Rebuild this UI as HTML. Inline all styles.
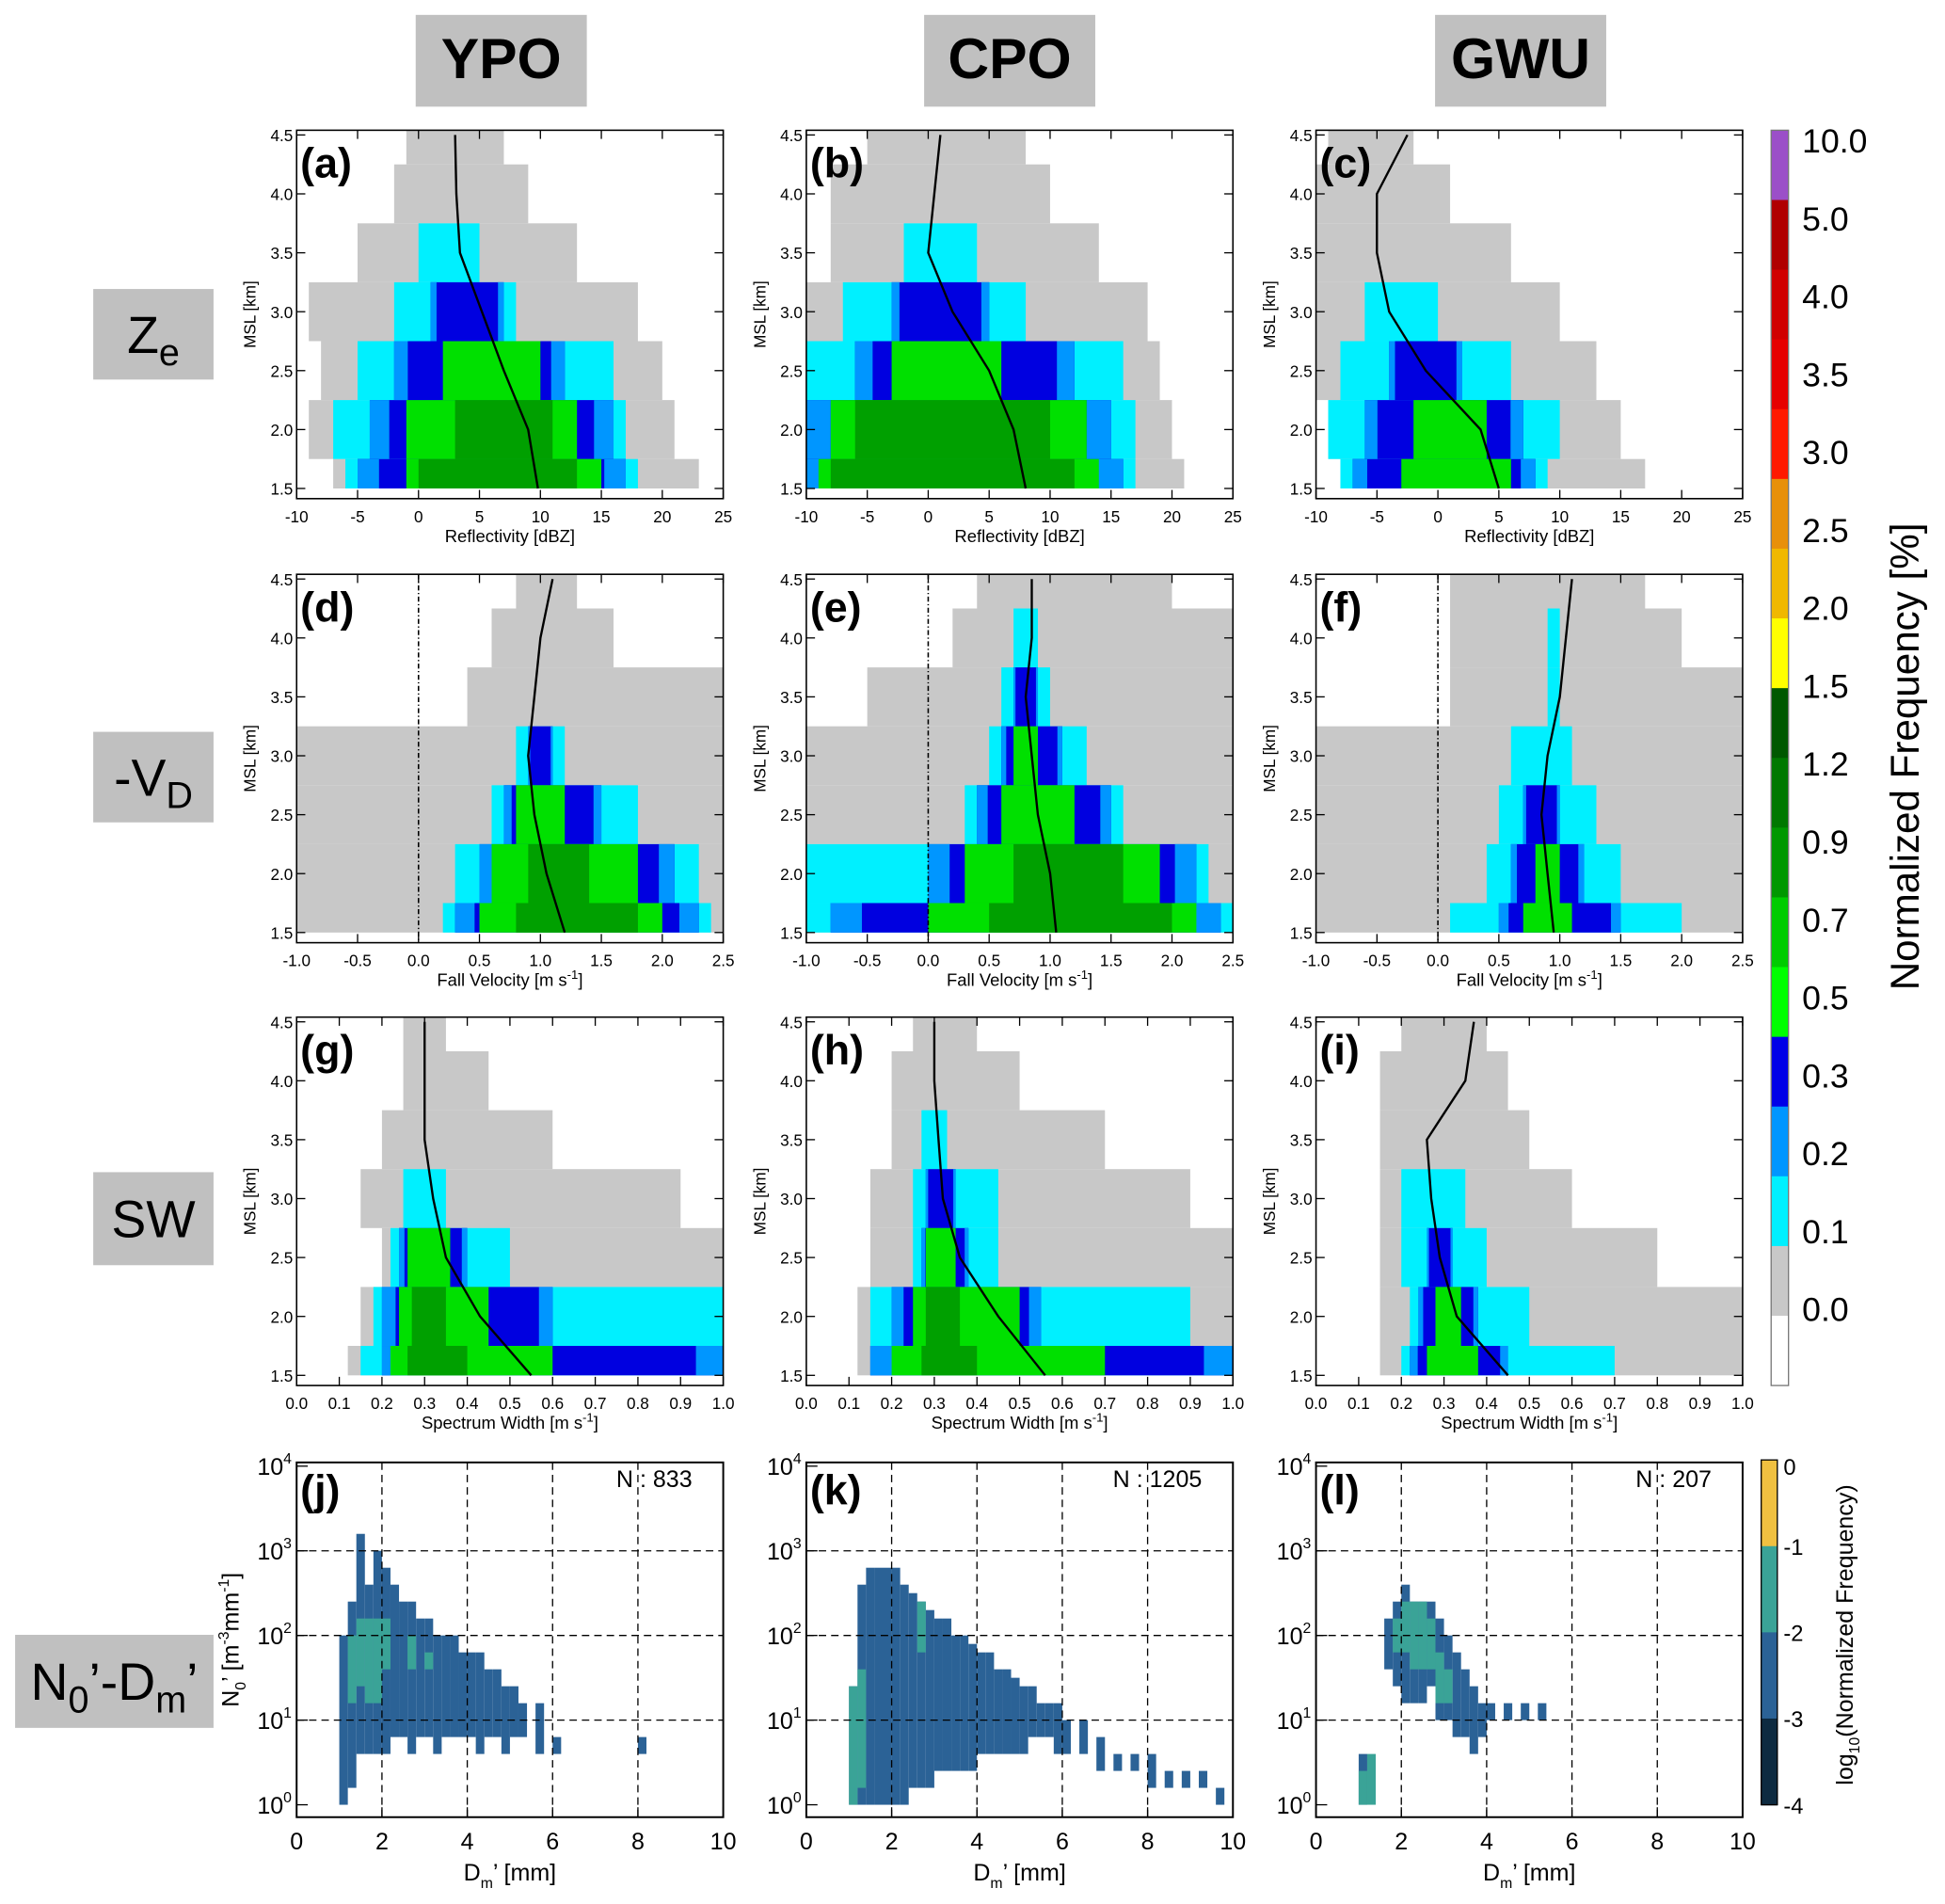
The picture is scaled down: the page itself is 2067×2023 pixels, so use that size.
<!DOCTYPE html>
<html><head><meta charset="utf-8">
<style>
html,body{margin:0;padding:0;background:#fff;}
svg{display:block;font-family:"Liberation Sans",Arial,sans-serif;}
</style></head>
<body>
<svg id="fig" width="2067" height="2023" viewBox="0 0 1568 1535" xmlns="http://www.w3.org/2000/svg"></svg>
<script>
// ---------- data (estimated) ----------
const hts=[1.5,2.0,2.5,3.0,3.5,4.0,4.5];
// panel a (YPO Ze)
const aGray=[[-7,23],[-9,21],[-8,20],[-9,18],[-5,13],[-2,9],[-1,7]];
const aCyan=[[-6,18],[-7,17],[-5,16],[-2,8],[0,5],null,null];
const aBlue=[[-5,17],[-4,16],[-2,12],[1,7],null,null,null];
const aGreen=[[-1,15],[-1,13],[2,10],null,null,null,null];
const aDark=[[0,13],[3,11],null,null,null,null,null];
const aMean=[9.8,9,7,5.2,3.4,3.1,3.0];
// panel b (CPO Ze)
const bGray=[[-10,21],[-10,20],[-10,19],[-10,18],[-8,14],[-8,10],[-5,8]];
const bCyan=[[-10,17],[-10,17],[-10,16],[-7,8],[-2,4],null,null];
const bBlue=[[-10,16],[-10,15],[-6,12],[-3,5],null,null,null];
const bGreen=[[-9,14],[-8,13],[-3,6],null,null,null,null];
const bDark=[[-8,12],[-6,10],null,null,null,null,null];
const bMean=[8,7,5,2,0,0.5,1];
// panel c (GWU Ze)
const cGray=[[-8,17],[-9,15],[-10,13],[-10,10],[-10,6],[-10,1],[-9,-2]];
const cCyan=[[-8,9],[-9,10],[-8,6],[-6,0],null,null,null];
const cBlue=[[-7,8],[-6,7],[-4,2],null,null,null,null];
const cGreen=[[-3,6],[-2,4],null,null,null,null,null];
const cDark=[null,null,null,null,null,null,null];
const cMean=[5,3.5,-1,-4,-5,-5,-2.5];
// panel d (YPO -VD)
const dGray=[[-1,2.5],[-1,2.5],[-1,2.5],[-1,2.5],[0.4,2.5],[0.6,1.6],[0.8,1.3]];
const dCyan=[[0.2,2.4],[0.3,2.3],[0.6,1.8],[0.8,1.2],null,null,null];
const dBlue=[[0.3,2.3],[0.5,2.1],[0.7,1.5],[0.9,1.1],null,null,null];
const dGreen=[[0.5,2.0],[0.6,1.8],[0.8,1.2],null,null,null,null];
const dDark=[[0.8,1.8],[0.9,1.4],null,null,null,null,null];
const dMean=[1.2,1.05,0.95,0.9,0.95,1.0,1.1];
// panel e (CPO -VD)
const eGray=[[-1,2.5],[-1,2.5],[-1,2.5],[-1,2.5],[-0.5,2.5],[0.2,2.5],[0.4,2.0]];
const eCyan=[[-1,2.5],[-1,2.3],[0.3,1.6],[0.5,1.3],[0.6,1.0],[0.7,0.9],null];
const eBlue=[[-0.8,2.4],[0,2.2],[0.4,1.5],[0.6,1.1],[0.7,0.9],null,null];
const eGreen=[[0,2.2],[0.3,1.9],[0.6,1.2],[0.7,0.9],null,null,null];
const eDark=[[0.5,2.0],[0.7,1.6],null,null,null,null,null];
const eMean=[1.05,1.0,0.9,0.85,0.8,0.85,0.85];
// panel f (GWU -VD)
const fGray=[[-1,2.5],[-1,2.5],[-1,2.5],[-1,2.5],[0.1,2.5],[0.1,2.0],[0.1,1.7]];
const fCyan=[[0.1,2.0],[0.4,1.5],[0.5,1.3],[0.6,1.1],[0.9,1.0],[0.9,1.0],null];
const fBlue=[[0.5,1.5],[0.6,1.2],[0.7,1.0],null,null,null,null];
const fGreen=[[0.7,1.1],[0.8,1.0],null,null,null,null,null];
const fDark=[null,null,null,null,null,null,null];
const fMean=[0.95,0.9,0.85,0.9,1.0,1.05,1.1];
// panel g (YPO SW)
const gGray=[[0.12,1],[0.15,1],[0.2,1],[0.15,0.9],[0.2,0.6],[0.25,0.45],[0.25,0.35]];
const gCyan=[[0.15,1],[0.18,1],[0.22,0.5],[0.25,0.35],null,null,null];
const gBlue=[[0.2,1],[0.2,0.6],[0.24,0.4],null,null,null,null];
const gGreen=[[0.22,0.6],[0.24,0.45],[0.26,0.36],null,null,null,null];
const gDark=[[0.26,0.4],[0.27,0.35],null,null,null,null,null];
const gMean=[0.55,0.43,0.35,0.32,0.3,0.3,0.3];
// panel h (CPO SW)
const hGray=[[0.12,1],[0.12,1],[0.15,1],[0.15,0.9],[0.2,0.7],[0.2,0.5],[0.25,0.4]];
const hCyan=[[0.15,1],[0.15,0.9],[0.25,0.45],[0.25,0.45],[0.27,0.33],null,null];
const hBlue=[[0.15,1],[0.2,0.55],[0.27,0.38],[0.28,0.35],null,null,null];
const hGreen=[[0.2,0.7],[0.25,0.5],[0.28,0.35],null,null,null,null];
const hDark=[[0.27,0.4],[0.28,0.36],null,null,null,null,null];
const hMean=[0.56,0.45,0.36,0.32,0.31,0.3,0.3];
// panel i (GWU SW)
const iGray=[[0.15,1],[0.15,1],[0.15,0.8],[0.15,0.6],[0.15,0.5],[0.15,0.45],[0.2,0.4]];
const iCyan=[[0.2,0.7],[0.22,0.5],[0.2,0.4],[0.2,0.35],null,null,null];
const iBlue=[[0.22,0.45],[0.24,0.38],[0.26,0.32],null,null,null,null];
const iGreen=[[0.26,0.38],[0.28,0.34],null,null,null,null,null];
const iDark=[null,null,null,null,null,null,null];
const iMean=[0.45,0.33,0.29,0.27,0.26,0.35,0.37];
// N0'-Dm' panels: column Dm, log10 N bottom/top
const jDm=[1.0,1.2,1.4,1.6,1.8,2.0,2.2,2.4,2.6,2.8,3.0,3.2,3.4,3.6,3.8,4.0,4.2,4.4,4.6,4.8,5.0,5.2,5.6,6.0,6.8,8.0];
const jLo=[0.0,0.2,0.6,0.6,0.6,0.6,0.8,0.8,0.6,0.8,0.8,0.6,0.8,0.8,0.8,0.8,0.6,0.8,0.8,0.6,0.8,0.8,0.6,0.6,0.6,0.6];
const jHi=[2.0,2.4,3.2,2.6,3.0,2.8,2.6,2.4,2.4,2.2,2.2,2.0,2.0,2.0,1.8,1.8,1.8,1.6,1.6,1.4,1.4,1.2,1.2,0.8,0.6,0.8];
const jTealDm=[1.2,1.4,1.6,1.8,2.0,2.6,3.0];
const jTealLo=[1.2,1.4,1.2,1.2,1.6,1.6,1.6];
const jTealHi=[2.0,2.2,2.2,2.2,2.2,2.0,1.8];
const kDm=[1.0,1.2,1.4,1.6,1.8,2.0,2.2,2.4,2.6,2.8,3.0,3.2,3.4,3.6,3.8,4.0,4.2,4.4,4.6,4.8,5.0,5.2,5.4,5.6,5.8,6.0,6.4,6.8,7.2,7.6,8.0,8.4,8.8,9.2,9.6];
const kLo=[0,0,0,0,0,0,0,0.2,0.2,0.2,0.4,0.4,0.4,0.4,0.4,0.6,0.6,0.6,0.6,0.6,0.6,0.8,0.8,0.8,0.6,0.6,0.6,0.4,0.4,0.4,0.2,0.2,0.2,0.2,0];
const kHi=[1.4,2.6,2.8,2.8,2.8,2.8,2.6,2.5,2.4,2.3,2.2,2.2,2.0,2.0,1.9,1.8,1.8,1.6,1.6,1.5,1.4,1.4,1.2,1.2,1.2,1.0,1.0,0.8,0.6,0.6,0.6,0.4,0.4,0.4,0.2];
const kTealDm=[1.0,1.2,2.6];
const kTealLo=[0,0.2,1.8];
const kTealHi=[1.4,1.6,2.4];
const lDm=[1.0,1.6,1.8,2.0,2.2,2.4,2.6,2.8,3.0,3.2,3.4,3.6,3.8,4.0,4.4,4.8,5.2];
const lLo=[0,1.6,1.4,1.2,1.2,1.2,1.4,1.0,1.0,0.8,0.8,0.6,0.8,1.0,1.0,1.0,1.0];
const lHi=[0.6,2.2,2.4,2.6,2.4,2.4,2.4,2.2,2.0,1.8,1.6,1.4,1.2,1.2,1.2,1.2,1.2];
const lTealDm=[1.0,1.2,1.8,2.0,2.2,2.4,2.6,2.8,3.0];
const lTealLo=[0,0,1.8,1.8,1.6,1.6,1.6,1.2,1.2];
const lTealHi=[0.4,0.6,2.2,2.4,2.4,2.4,2.2,1.8,1.6];
const nLabels=["N : 833","N : 1205","N : 207"];
const zTicks=[-10,-5,0,5,10,15,20,25];
const vTicks=[-1.0,-0.5,0.0,0.5,1.0,1.5,2.0,2.5];
const wTicks=[0.0,0.1,0.2,0.3,0.4,0.5,0.6,0.7,0.8,0.9,1.0];
const hTicks=[1.5,2.0,2.5,3.0,3.5,4.0,4.5];
const dmTicks=[0,2,4,6,8,10];
const cbLabels=["10.0","5.0","4.0","3.5","3.0","2.5","2.0","1.5","1.2","0.9","0.7","0.5","0.3","0.2","0.1","0.0"];
const cbColors=["#9b4fc8","#b00000","#d00000","#e60000","#ff1a00","#e8900a","#f0b800","#ffff00","#005800","#007800","#009800","#00cc00","#00ff00","#0000e8","#0096ff","#00f0ff","#c8c8c8","#ffffff"];
const cb2Labels=["0","-1","-2","-3","-4"];
const cb2Colors=["#f0c040","#3aa397","#2b6296","#0d2a40"];

// ---------- drawing ----------
const NS="http://www.w3.org/2000/svg";
const svg=document.getElementById('fig');
function mk(tag,attrs,parent){const e=document.createElementNS(NS,tag);for(const k in attrs)e.setAttribute(k,attrs[k]);(parent||svg).appendChild(e);return e;}
function txt(s,x,y,size,anchor,weight,parent){const t=mk('text',{x:x,y:y,'font-size':size,'text-anchor':anchor||'start','font-weight':weight||'normal',fill:'#000'},parent);t.textContent=s;return t;}

const colX=[239,650,1061], PW=344, rowY=[105,463,820], PH=297;
const C={gray:"#c8c8c8",cyan:"#00f0ff",lblue:"#0096ff",blue:"#0000e0",green:"#00e000",dark:"#00a000"};

["YPO","CPO","GWU"].forEach((s,i)=>{
 const g=mk('g',{});
 
 
 const bx=[335,745,1157][i];
 mk('rect',{x:bx,y:12,width:138,height:74,fill:'#c0c0c0'},g);
 txt(s,bx+69,63,46,'middle','bold',g);
});
function rowLabel(name,x,y,w,h,html){
 const g=mk('g',{});
 
 
 mk('rect',{x:x,y:y,width:w,height:h,fill:'#c0c0c0'},g);
 const t=mk('text',{x:x+w/2,y:y+h/2+15,'font-size':42,'text-anchor':'middle',fill:'#000'},g);
 t.innerHTML=html;
}
rowLabel('row-label-ze',75,233,97,73,'Z<tspan font-size="30" dy="10">e</tspan>');
rowLabel('row-label-vd',75,590,97,73,'-V<tspan font-size="30" dy="10">D</tspan>');
rowLabel('row-label-sw',75,945,97,75,'SW');
rowLabel('row-label-n0dm',12,1318,160,75,'N<tspan font-size="30" dy="10">0</tspan><tspan dy="-10">’-D</tspan><tspan font-size="30" dy="10">m</tspan><tspan dy="-10">’</tspan>');

const rows=[
 {ticks:zTicks,min:-10,max:25,title:'Reflectivity [dBZ]',panels:[
  ['a',aGray,aCyan,aBlue,aGreen,aDark,aMean],['b',bGray,bCyan,bBlue,bGreen,bDark,bMean],['c',cGray,cCyan,cBlue,cGreen,cDark,cMean]],fmt:v=>String(v)},
 {ticks:vTicks,min:-1,max:2.5,title:'Fall Velocity [m s',sup:true,panels:[
  ['d',dGray,dCyan,dBlue,dGreen,dDark,dMean],['e',eGray,eCyan,eBlue,eGreen,eDark,eMean],['f',fGray,fCyan,fBlue,fGreen,fDark,fMean]],fmt:v=>v.toFixed(1),zero:true},
 {ticks:wTicks,min:0,max:1,title:'Spectrum Width [m s',sup:true,panels:[
  ['g',gGray,gCyan,gBlue,gGreen,gDark,gMean],['h',hGray,hCyan,hBlue,hGreen,hDark,hMean],['i',iGray,iCyan,iBlue,iGreen,iDark,iMean]],fmt:v=>v.toFixed(1)}
];

rows.forEach((row,ri)=>{
 row.panels.forEach((p,ci)=>{
  const x0=colX[ci], y0=rowY[ri];
  const xs=v=>x0+(v-row.min)/(row.max-row.min)*PW;
  const ys=h=>y0+(4.54-h)*95;
  const g=mk('g',{});
  
  
  mk('clipPath',{id:'cp'+p[0]},g);
  mk('rect',{x:x0,y:y0,width:PW,height:PH},g.lastChild);
  const hm=mk('g',{'clip-path':'url(#cp'+p[0]+')'},g);
  
  
  const layers=[[p[1],C.gray],[p[2],C.cyan],[p[3],C.blue],[p[4],C.green],[p[5],C.dark]];
  layers.forEach(([arr,col],li)=>{
   arr.forEach((r,k)=>{
    if(!r)return;
    const hb=Math.max(1.5,hts[k]-0.25), ht=Math.min(4.54,hts[k]+0.25);
    const rc=mk('rect',{x:xs(r[0]),y:ys(ht),width:Math.max(1,xs(r[1])-xs(r[0])),height:ys(hb)-ys(ht),fill:col},hm);
    
    
    if(li===2){
     const w=(xs(r[1])-xs(r[0]))*0.08;
     mk('rect',{x:xs(r[0]),y:ys(ht),width:w,height:ys(hb)-ys(ht),fill:C.lblue},hm);
     mk('rect',{x:xs(r[1])-w,y:ys(ht),width:w,height:ys(hb)-ys(ht),fill:C.lblue},hm);
    }
   });
  });
  if(row.zero){
   const zl=mk('line',{x1:xs(0),x2:xs(0),y1:y0,y2:y0+PH,stroke:'#000','stroke-width':1.2,'stroke-dasharray':'4,2,1,2'},g);
   
   
  }
  const pts=p[6].map((v,k)=>xs(v).toFixed(1)+','+ys(hts[k]).toFixed(1)).join(' ');
  const ml=mk('polyline',{points:pts,fill:'none',stroke:'#000','stroke-width':1.8},g);
  
  
  mk('rect',{x:x0,y:y0,width:PW,height:PH,fill:'none',stroke:'#000','stroke-width':1.2},g);
  row.ticks.forEach(v=>{
   const x=xs(v);
   mk('line',{x1:x,x2:x,y1:y0+PH,y2:y0+PH-7,stroke:'#000'},g);
   mk('line',{x1:x,x2:x,y1:y0,y2:y0+7,stroke:'#000'},g);
   txt(row.fmt(v),x,y0+PH+19,13,'middle','normal',g);
  });
  hTicks.forEach(h=>{
   const y=ys(h);
   mk('line',{x1:x0,x2:x0+7,y1:y,y2:y,stroke:'#000'},g);
   mk('line',{x1:x0+PW,x2:x0+PW-7,y1:y,y2:y,stroke:'#000'},g);
   txt(h.toFixed(1),x0-3,y+5,13,'end','normal',g);
  });
  const xt=txt(row.title,x0+PW/2,y0+PH+35,14,'middle','normal',g);
  
  
  if(row.sup){xt.innerHTML=row.title+'<tspan font-size="10" dy="-6">-1</tspan><tspan dy="6">]</tspan>';}
  const yt=mk('text',{x:0,y:0,'font-size':13,'text-anchor':'middle',transform:'translate('+(x0-33)+','+(y0+PH/2)+') rotate(-90)'},g);
  yt.textContent='MSL [km]';
  
  
  const lb=txt('('+p[0]+')',x0+3,y0+38,34,'start','bold',g);
  
  
 });
});

const r4=[['j',jDm,jLo,jHi,jTealDm,jTealLo,jTealHi],['k',kDm,kLo,kHi,kTealDm,kTealLo,kTealHi],['l',lDm,lLo,lHi,lTealDm,lTealLo,lTealHi]];
const y4t=1179, y4b=1465;
r4.forEach((p,ci)=>{
 const x0=colX[ci];
 const xs=v=>x0+v/10*PW;
 const ys=l=>1455-l*68.25;
 const g=mk('g',{});
 
 
 p[1].forEach((dm,k)=>{
  const c=mk('rect',{x:xs(dm),y:ys(p[3][k]),width:xs(0.2)-xs(0),height:ys(p[2][k])-ys(p[3][k]),fill:'#2b6296'},g);
  
  
 });
 p[4].forEach((dm,k)=>{
  const c=mk('rect',{x:xs(dm),y:ys(p[6][k]),width:xs(0.2)-xs(0),height:ys(p[5][k])-ys(p[6][k]),fill:'#3aa397'},g);
  
  
 });
 [2,4,6,8].forEach(v=>mk('line',{x1:xs(v),x2:xs(v),y1:y4t,y2:y4b,stroke:'#000','stroke-dasharray':'6,4','stroke-width':1},g));
 [1,2,3].forEach(l=>mk('line',{x1:x0,x2:x0+PW,y1:ys(l),y2:ys(l),stroke:'#000','stroke-dasharray':'6,4','stroke-width':1},g));
 mk('rect',{x:x0,y:y4t,width:PW,height:y4b-y4t,fill:'none',stroke:'#000','stroke-width':1.5},g);
 dmTicks.forEach(v=>{
  mk('line',{x1:xs(v),x2:xs(v),y1:y4b,y2:y4b-8,stroke:'#000'},g);
  txt(String(v),xs(v),1491,19,'middle','normal',g);
 });
 [0,1,2,3,4].forEach(l=>{
  mk('line',{x1:x0,x2:x0+9,y1:ys(l),y2:ys(l),stroke:'#000'},g);
  const t=mk('text',{x:x0-4,y:ys(l)+7,'font-size':19,'text-anchor':'end'},g);
  t.innerHTML='10<tspan font-size="12" dy="-9">'+l+'</tspan>';
 });
 const xt=mk('text',{x:x0+PW/2,y:1516,'font-size':19,'text-anchor':'middle'},g);
 xt.innerHTML='D<tspan font-size="12" dy="6">m</tspan><tspan dy="-6">’ [mm]</tspan>';
 
 
 if(ci===0){
  const yt=mk('text',{x:0,y:0,'font-size':19,'text-anchor':'middle',transform:'translate(192,1322) rotate(-90)'},g);
  yt.innerHTML='N<tspan font-size="12" dy="6">0</tspan><tspan dy="-6">’ [m</tspan><tspan font-size="12" dy="-8">-3</tspan><tspan dy="8">mm</tspan><tspan font-size="12" dy="-8">-1</tspan><tspan dy="8">]</tspan>';
  
  
 }
 const nl=txt(nLabels[ci],x0+PW-25,1199,19,'end','normal',g);
 
 
 const lb=txt('('+p[0]+')',x0+3,1213,34,'start','bold',g);
 
 
});

const cb=mk('g',{});


const cbTop=105, cbBot=1117, segH=(cbBot-cbTop)/cbColors.length;
cbColors.forEach((c,k)=>mk('rect',{x:1428,y:cbTop+k*segH,width:14,height:segH+0.5,fill:c},cb));
mk('rect',{x:1428,y:cbTop,width:14,height:cbBot-cbTop,fill:'none',stroke:'#777'},cb);
cbLabels.forEach((s,k)=>txt(s,1453,123+k*62.8,27,'start','normal',cb));
const cbt=mk('text',{x:0,y:0,'font-size':32,'text-anchor':'middle',transform:'translate(1547,610) rotate(-90)'},cb);
cbt.textContent='Normalized Frequency [%]';
const cb2=mk('g',{});


const c2t=1177,c2b=1455,s2=(c2b-c2t)/4;
cb2Colors.forEach((c,k)=>mk('rect',{x:1420,y:c2t+k*s2,width:13,height:s2+0.5,fill:c},cb2));
mk('rect',{x:1420,y:c2t,width:13,height:c2b-c2t,fill:'none',stroke:'#000'},cb2);
cb2Labels.forEach((s,k)=>txt(s,1438,c2t+k*s2+(k===0?12:7),18,'start','normal',cb2));
const c2l=mk('text',{x:0,y:0,'font-size':19,'text-anchor':'middle',transform:'translate(1494,1318) rotate(-90)'},cb2);
c2l.innerHTML='log<tspan font-size="12" dy="5">10</tspan><tspan dy="-5">(Normalized Frequency)</tspan>';
</script>
</body></html>
